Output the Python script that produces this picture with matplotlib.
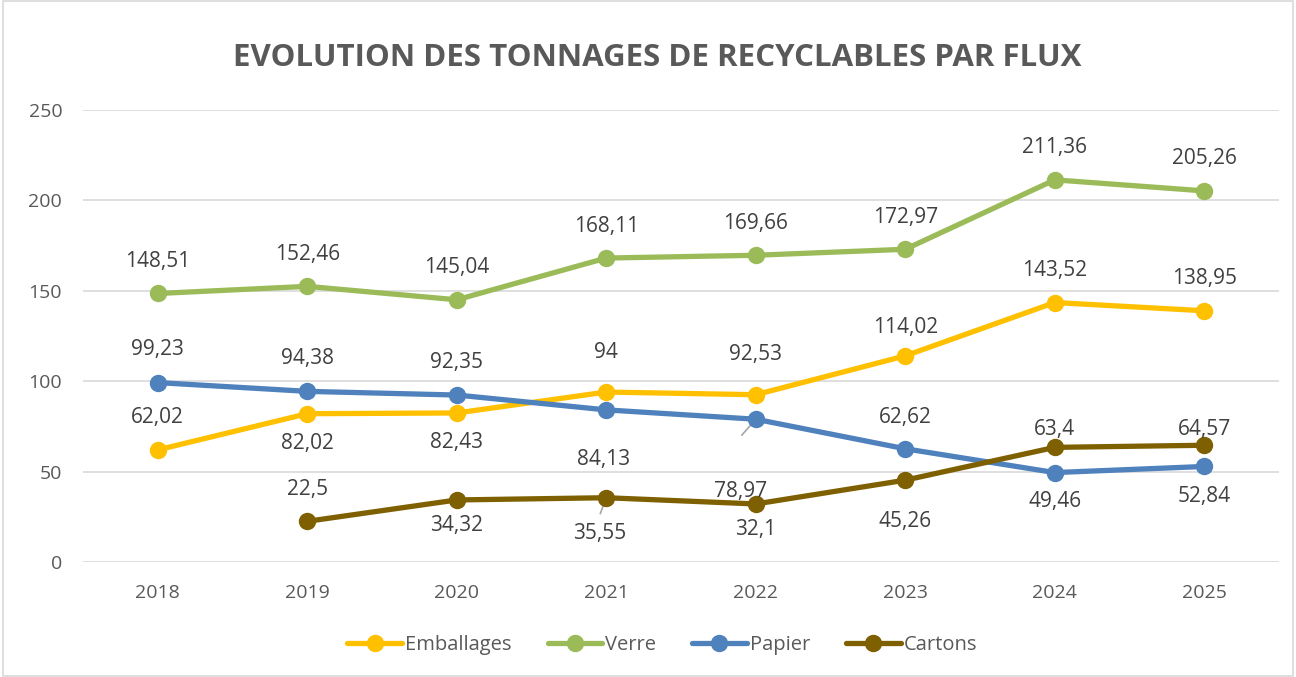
import matplotlib
matplotlib.use("Agg")
import matplotlib.pyplot as plt
import numpy as np

years = ["2018", "2019", "2020", "2021", "2022", "2023", "2024", "2025"]
emballages = [62.02, 82.02, 82.43, 94, 92.53, 114.02, 143.52, 138.95]
verre = [148.51, 152.46, 145.04, 168.11, 169.66, 172.97, 211.36, 205.26]
papier = [99.23, 94.38, 92.35, 84.13, 78.97, 62.62, 49.46, 52.84]
cartons = [np.nan, 22.5, 34.32, 35.55, 32.1, 45.26, 63.4, 64.57]

series = [
    ("Emballages", emballages, "#FFC000"),
    ("Verre", verre, "#9BBB59"),
    ("Papier", papier, "#4F81BD"),
    ("Cartons", cartons, "#7F6000"),
]

# label offsets in pixels (dx, dy), dy positive = up
offsets = {
    "Emballages": [(0, 32), (0, -30), (0, -30), (0, 40), (0, 40), (0, 28), (0, 32), (0, 32)],
    "Verre": [(0, 32)] * 8,
    "Papier": [(0, 33), (0, 33), (0, 33), (-3, -50), (-15, -72), (0, 31), (0, -29), (0, -30)],
    "Cartons": [(0, 0), (0, 32), (0, -26), (-7, -36), (0, -26), (0, -41), (0, 18), (0, 16)],
}
# short leader lines (end point offset in pixels)
leaders = {("Papier", 4): (-14, -16), ("Cartons", 3): (-6, -16)}

plt.rcParams['font.family'] = ['Open Sans', 'DejaVu Sans']

fig = plt.figure(figsize=(12.96, 6.77), dpi=100)
ax = fig.add_axes([83 / 1296, 115 / 677, 1196 / 1296, 452 / 677])
x = np.arange(len(years))

px = 72 / 100  # pixels -> points
for name, vals, col in series:
    ax.plot(x, vals, color=col, lw=3.8, marker="o", ms=11.5, label=name,
            solid_capstyle="round", zorder=3)
    for i, v in enumerate(vals):
        if np.isnan(v):
            continue
        dx, dy = offsets[name][i]
        txt = ("%g" % v).replace(".", ",")
        ax.annotate(txt, (i, v), xytext=(dx * px, dy * px), textcoords="offset points",
                    ha="center", va="center", fontsize=15, color="#404040", zorder=4)
        if (name, i) in leaders:
            lx, ly = leaders[(name, i)]
            ax.annotate("", (i, v), xytext=(lx * px, ly * px), textcoords="offset points",
                        arrowprops=dict(arrowstyle="-", color="#A6A6A6", lw=1.2,
                                        shrinkA=0, shrinkB=0), zorder=2.5)

ax.set_xlim(-0.5, len(years) - 0.5)
ax.set_ylim(0, 250)
ax.set_yticks(range(0, 251, 50))
ax.set_xticks(x)
ax.set_xticklabels(years)
ax.grid(axis="y", color="#D9D9D9", lw=1.2, zorder=0)
ax.set_axisbelow(True)
for s in ax.spines.values():
    s.set_visible(False)
ax.tick_params(length=0, labelsize=14, labelcolor="#595959")
ax.tick_params(axis="y", pad=15)
ax.tick_params(axis="x", pad=16)

fig.text(0.507, 1 - 58 / 677, "EVOLUTION DES TONNAGES DE RECYCLABLES PAR FLUX",
         ha="center", va="center", fontsize=22.5, fontweight="bold", color="#595959")

leg = fig.legend(loc="center", bbox_to_anchor=(0.511, 1 - 645 / 677), ncol=4, frameon=False,
                 fontsize=14.5, handlelength=2.7, handletextpad=0.15, columnspacing=1.8,
                 labelcolor="#595959")

fig.patches.append(plt.Rectangle((0.002, 0.002), 0.996, 0.996, transform=fig.transFigure,
                                 fill=False, edgecolor="#D9D9D9", lw=1.2))

fig.savefig("out.png", dpi=100)
